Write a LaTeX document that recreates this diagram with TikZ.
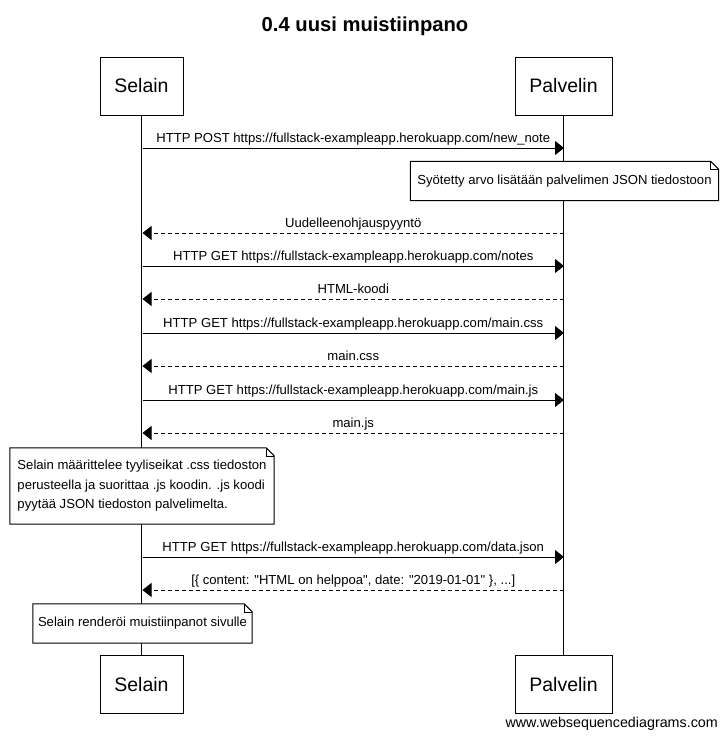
\documentclass[tikz,border=0pt]{standalone}
\usepackage{fontspec}
\setmainfont{Liberation Sans}[Ligatures=TeXOff]
\usetikzlibrary{arrows.meta}
\begin{document}
\begin{tikzpicture}[x=1pt,y=-1pt,
  actor/.style={draw,line width=1pt,minimum height=58pt,font=\fontsize{19.5}{22}\selectfont},
  msg/.style={line width=1pt,-{Triangle[length=9pt,width=14pt]}},
  reply/.style={msg,dash pattern=on 4pt off 3pt},
  lbl/.style={font=\fontsize{13.1}{15}\selectfont,anchor=base,inner sep=0pt},
  notebox/.style={fill=white,inner sep=0pt,font=\fontsize{13.1}{19.5}\selectfont}]
\useasboundingbox (0,0) rectangle (727,737);
\node[font=\fontsize{20.2}{22}\selectfont\bfseries,anchor=base] (title) at (365,31.5) {0.4 uusi muistiinpano};
\node[actor,minimum width=83pt] (selainA) at (141.5,86) {Selain};
\node[actor,minimum width=97pt] (palvelinA) at (563.5,86) {Palvelin};
\node[actor,minimum width=83pt] (selainB) at (141.5,684.5) {Selain};
\node[actor,minimum width=97pt] (palvelinB) at (563.5,684.5) {Palvelin};
\draw[line width=1pt] (selainA) -- (selainB);
\draw[line width=1pt] (palvelinA) -- (palvelinB);
% viestit
\foreach \i/\y in {1/148,2/233,3/266,4/299,5/333,6/366,7/400,8/433,9/557,10/590} {
  \coordinate (s\i) at (142.5,\y);
  \coordinate (p\i) at (564,\y);
}
\draw[msg] (s1) -- (p1) node[lbl,midway,yshift=6pt] {HTTP POST https://fullstack-exampleapp.herokuapp.com/new\_note};
\draw[reply] (p2) -- (s2) node[lbl,midway,yshift=6pt] {Uudelleenohjauspyyntö};
\draw[msg] (s3) -- (p3) node[lbl,midway,yshift=6pt] {HTTP GET https://fullstack-exampleapp.herokuapp.com/notes};
\draw[reply] (p4) -- (s4) node[lbl,midway,yshift=6pt] {HTML-koodi};
\draw[msg] (s5) -- (p5) node[lbl,midway,yshift=6pt] {HTTP GET https://fullstack-exampleapp.herokuapp.com/main.css};
\draw[reply] (p6) -- (s6) node[lbl,midway,yshift=6pt] {main.css};
\draw[msg] (s7) -- (p7) node[lbl,midway,yshift=6pt] {HTTP GET https://fullstack-exampleapp.herokuapp.com/main.js};
\draw[reply] (p8) -- (s8) node[lbl,midway,yshift=6pt] {main.js};
\draw[msg] (s9) -- (p9) node[lbl,midway,yshift=6pt] {HTTP GET https://fullstack-exampleapp.herokuapp.com/data.json};
\draw[reply] (p10) -- (s10) node[lbl,midway,yshift=6pt] {[\{ content: "HTML on helppoa", date: "2019-01-01" \}, ...]};
% muistiinpanot
\node[notebox,minimum width=308pt,minimum height=39pt] (noteA) at (564.5,181) {Syötetty arvo lisätään palvelimen JSON tiedostoon};
\node[notebox,minimum width=264pt,minimum height=76pt,align=left] (noteB) at (142,486) {Selain määrittelee tyyliseikat .css tiedoston\\perusteella ja suorittaa .js koodin. .js koodi\\pyytää JSON tiedoston palvelimelta.};
\node[notebox,minimum width=219pt,minimum height=39pt] (noteC) at (142.5,623.5) {Selain renderöi muistiinpanot sivulle};
\foreach \n in {noteA,noteB,noteC} {
  \draw[line width=1pt] (\n.north west) -- ([xshift=-8pt]\n.north east) -- ([yshift=-8pt]\n.north east) -- (\n.south east) -- (\n.south west) -- cycle;
  \draw[line width=0.6pt] ([xshift=-8pt]\n.north east) |- ([yshift=-8pt]\n.north east);
}
\node[font=\fontsize{14.3}{16}\selectfont,anchor=base east,inner sep=0pt] (footer) at (718,727) {www.websequencediagrams.com};
\end{tikzpicture}
\end{document}
